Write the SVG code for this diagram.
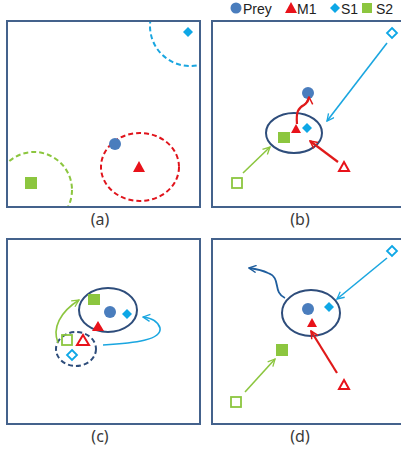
<svg xmlns="http://www.w3.org/2000/svg" width="401" height="453" viewBox="0 0 401 453">
<style>
.panel{fill:#fff;stroke:#44628c;stroke-width:2}
.lbl{font-family:"Noto Sans","Liberation Sans",sans-serif;font-size:16px;fill:#3a3a3a;text-anchor:middle}
.leg{font-family:"Liberation Sans","Noto Sans",sans-serif;font-size:14px;fill:#222}
.prey{fill:#4a7dbd}
.m1{fill:#e8121a}
.m1o{fill:none;stroke:#e8121a;stroke-width:2}
.s1{fill:#0ea7e6}
.s1o{fill:none;stroke:#0ea7e6;stroke-width:1.8}
.s2{fill:#8cc63f}
.s2o{fill:none;stroke:#8cc63f;stroke-width:1.8}
.ell{fill:none;stroke:#2e4d7b;stroke-width:2}
.dash{fill:none;stroke-width:2;stroke-dasharray:5 3}
.ab{fill:none;stroke:#1aa6e0;stroke-width:1.6;marker-end:url(#hb)}
.ar{fill:none;stroke:#e01a1a;stroke-width:2.2;marker-end:url(#hr)}
.ag{fill:none;stroke:#8cc63f;stroke-width:1.6;marker-end:url(#hg)}
.ad{fill:none;stroke:#1f5e9e;stroke-width:1.8;marker-end:url(#hd)}
</style>
<defs>
<marker id="hb" viewBox="0 0 10 10" refX="9" refY="5" markerWidth="5.5" markerHeight="5.5" orient="auto" markerUnits="strokeWidth"><path d="M1,1 L9,5 L1,9" fill="none" stroke="#1aa6e0" stroke-width="1.5"/></marker>
<marker id="hr" viewBox="0 0 10 10" refX="9" refY="5" markerWidth="4.2" markerHeight="4.2" orient="auto" markerUnits="strokeWidth"><path d="M1,1 L9,5 L1,9" fill="none" stroke="#e01a1a" stroke-width="1.6"/></marker>
<marker id="hg" viewBox="0 0 10 10" refX="9" refY="5" markerWidth="5.5" markerHeight="5.5" orient="auto" markerUnits="strokeWidth"><path d="M1,1 L9,5 L1,9" fill="none" stroke="#8cc63f" stroke-width="1.5"/></marker>
<marker id="hd" viewBox="0 0 10 10" refX="9" refY="5" markerWidth="5" markerHeight="5" orient="auto" markerUnits="strokeWidth"><path d="M1,1 L9,5 L1,9" fill="none" stroke="#1f5e9e" stroke-width="1.5"/></marker>
<clipPath id="cpa"><rect x="8" y="22" width="191" height="184"/></clipPath>
</defs>

<!-- legend -->
<g id="legend">
<circle class="prey" cx="236" cy="8" r="5.5"/>
<text class="leg" x="243" y="13.5">Prey</text>
<polygon class="m1" points="291,2 297,13 285,13"/>
<text class="leg" x="297" y="13.5">M1</text>
<polygon class="s1" points="335,3 340,8 335,13 330,8"/>
<text class="leg" x="341" y="13.5">S1</text>
<rect class="s2" x="362" y="3" width="10" height="10"/>
<text class="leg" x="376" y="13.5">S2</text>
</g>

<!-- panels -->
<g id="panel-a">
<rect class="panel" x="7" y="21" width="193" height="186"/>
<text class="lbl" x="100" y="225">(a)</text>
</g>
<g id="panel-b">
<rect class="panel" x="212" y="21" width="200" height="186"/>
<text class="lbl" x="300" y="225">(b)</text>
</g>
<g id="panel-c">
<rect class="panel" x="7" y="239" width="193" height="185"/>
<text class="lbl" x="100" y="442">(c)</text>
</g>
<g id="panel-d">
<rect class="panel" x="212" y="239" width="200" height="185"/>
<text class="lbl" x="300" y="442">(d)</text>
</g>

<!-- panel a -->
<g id="a-ranges" clip-path="url(#cpa)">
<circle class="dash" cx="190" cy="26" r="40" stroke="#1aa6e0"/>
<ellipse class="dash" cx="140" cy="167" rx="39" ry="34" stroke="#e0141c"/>
<circle class="dash" cx="34" cy="190" r="38" stroke="#8cc63f"/>
</g>
<g id="a-s1"><polygon class="s1" points="188,27 193,32 188,37 183,32"/></g>
<g id="a-m1"><polygon class="m1" points="139,161 145,172 133,172"/></g>
<g id="a-prey"><circle class="prey" cx="115" cy="144" r="6"/></g>
<g id="a-s2"><rect class="s2" x="25" y="177" width="12" height="12"/></g>

<!-- panel b -->
<g id="b-capture"><ellipse class="ell" cx="294" cy="133" rx="28" ry="20"/></g>
<g id="b-prey"><circle class="prey" cx="308" cy="93" r="6"/></g>
<g id="b-m1"><polygon class="m1" points="296,124 301,133 291,133"/></g>
<g id="b-s1"><polygon class="s1" points="307,123 312,128 307,133 302,128"/></g>
<g id="b-s2"><rect class="s2" x="278" y="132" width="12" height="11"/></g>
<g id="b-s1-start"><polygon class="s1o" points="392,28 397,33 392,38 387,33"/></g>
<g id="b-m1-start"><polygon class="m1o" points="344,162 349,171 339,171"/></g>
<g id="b-s2-start"><rect class="s2o" x="232" y="178" width="10" height="10"/></g>

<!-- panel c -->
<g id="c-capture"><ellipse class="ell" cx="108" cy="310" rx="29" ry="22"/></g>
<g id="c-s2"><rect class="s2" x="88" y="294" width="12" height="11"/></g>
<g id="c-prey"><circle class="prey" cx="110" cy="312" r="6"/></g>
<g id="c-s1"><polygon class="s1" points="127,309 132,314 127,319 122,314"/></g>
<g id="c-m1"><polygon class="m1" points="98,321 104,331 92,331"/></g>
<g id="c-group"><ellipse class="dash" cx="76" cy="349" rx="20" ry="17" stroke="#2e4d7b"/></g>
<g id="c-s2-start"><rect class="s2o" x="62" y="335" width="10" height="10"/></g>
<g id="c-m1-start"><polygon class="m1o" points="83,335 89,345 77,345"/></g>
<g id="c-s1-start"><polygon class="s1o" points="72,350 77,355 72,360 67,355"/></g>

<!-- panel d -->
<g id="d-capture"><ellipse class="ell" cx="311" cy="313" rx="29" ry="23"/></g>
<g id="d-prey"><circle class="prey" cx="308" cy="309" r="6"/></g>
<g id="d-s1"><polygon class="s1" points="329,302 334,307 329,312 324,307"/></g>
<g id="d-m1"><polygon class="m1" points="312,318 317,327 307,327"/></g>
<g id="d-s2"><rect class="s2" x="276" y="344" width="12" height="12"/></g>
<g id="d-s1-start"><polygon class="s1o" points="392,246 397,251 392,256 387,251"/></g>
<g id="d-m1-start"><polygon class="m1o" points="344,380 349,389 339,389"/></g>
<g id="d-s2-start"><rect class="s2o" x="231" y="397" width="10" height="10"/></g>

<!-- connectors -->
<g id="connectors">
<path class="ab" d="M387,43 L327,121"/>
<path class="ar" d="M297,124 C296,112 298,108 304,105 C308,102 309,100 309,97"/>
<path class="ag" d="M243,173 L270,147"/>
<path class="ar" d="M338,162 L310,141"/>

<path class="ag" d="M58,343 C52,328 60,312 79,300"/>
<path class="ab" d="M103,345 C135,343 162,340 160,328 C158,321 151,318 143,317"/>

<path class="ad" d="M285,298 C272,292 282,278 268,273 C262,270 256,269 249,268"/>
<path class="ab" d="M387,258 L337,299"/>
<path class="ag" d="M245,392 L275,359"/>
<path class="ar" d="M337,373 L311,331"/>
</g>
</svg>
